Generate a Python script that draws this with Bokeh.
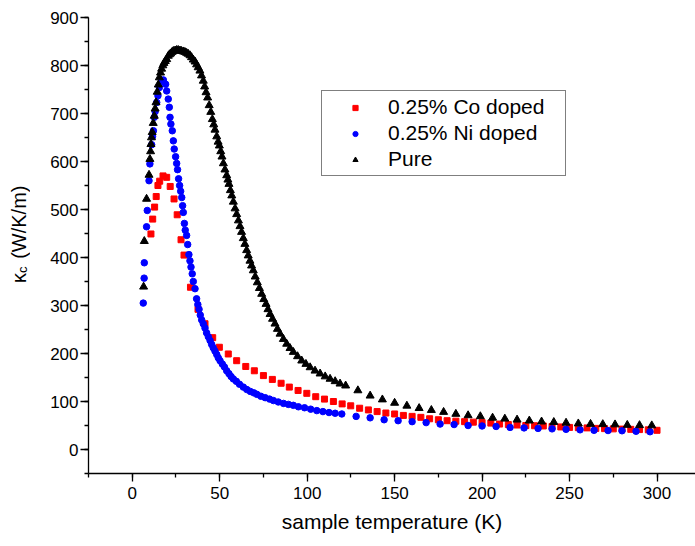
import math
from bokeh.plotting import figure
from bokeh.layouts import row
from bokeh.models import (Range1d, SingleIntervalTicker, Legend, LegendItem)
from bokeh.core.properties import value
from bokeh.embed import file_html
from bokeh.resources import INLINE

# ---------------- data ----------------
ni_T = [6.3, 6.8, 6.9, 8.2, 8.6, 9.6, 10.1, 11.1, 11.6, 12.1, 12.6, 13.1, 14.0, 14.7,
        15.5, 16.8, 17.8, 19.1, 19.7, 20.6, 21.2, 21.6, 22.1, 22.9, 23.5, 24.0, 24.8,
        25.4, 25.9, 26.5, 27.1, 27.7, 28.3, 28.8, 29.2, 29.8, 30.3, 31.1, 31.7, 32.4,
        33.0, 33.6, 34.3, 34.9, 35.9, 36.8, 37.5, 38.2, 38.9, 39.7, 40.6, 41.6, 42.5,
        43.5, 44.5, 45.4, 46.3, 47.3, 48.3, 49.2, 50.2, 51.5, 52.7, 54.0, 55.3, 56.5,
        57.8, 59.5, 61.3, 63.5, 65.5, 67.5, 69.5, 71.2, 73.5, 76.0, 78.5, 80.7, 83.5,
        86.5, 89.3, 92.1, 95.0, 98.5, 102.0, 105.5, 109.0, 112.5, 116.0, 119.8,
        128, 136, 144, 152, 160, 168, 176, 184, 192, 200, 208, 216, 224, 232, 240,
        248, 256, 264, 272, 280, 288, 296]
ni_K = [305, 357, 389, 464, 498, 560, 595, 635, 652, 664, 692, 704, 723, 737,
        754, 767, 770, 761, 747, 730, 713, 692, 678, 664, 643, 626, 610,
        596, 583, 564, 550, 538, 525, 508, 494, 471, 457, 446, 427, 406,
        393, 380, 366, 350, 335, 314, 302, 292, 280, 270, 262, 253, 243,
        235, 227, 219, 212, 205, 198, 191, 185, 178, 172, 164, 158, 152,
        147, 142, 136, 130, 125, 121, 118, 115, 111, 108, 105, 102, 99,
        96, 94, 92, 89, 87, 84, 81, 79, 77, 75.5, 74,
        69, 66, 62, 60, 58, 56, 53, 52, 50, 49, 48, 46, 45, 44, 43,
        42, 41, 40, 39.5, 39, 38, 37]

co_T = [10.7, 11.7, 12.8, 13.7, 14.7, 15.7, 17.6, 19.7, 21.7, 23.9, 25.7, 27.9, 29.6,
        33.3, 37.6, 41.6, 46.0, 49.8, 54.9, 59.7, 64.9, 69.8, 75.0, 80.1, 85.1, 89.8,
        94.8, 99.8, 104.9, 109.9, 115, 120, 124.9, 130, 135, 140, 145, 150, 155, 160,
        165, 170, 175, 180, 185, 190, 195, 200, 205, 210, 215, 220, 225, 230, 235,
        240, 245, 250, 255, 260, 265, 270, 275, 280, 285, 290, 295, 300]
co_K = [449, 480, 505, 527, 550, 559, 570, 567, 548, 522, 489, 437, 405,
        338, 292, 262, 233, 213, 199, 185, 173, 164, 154, 146, 138, 130,
        123, 117, 110, 105, 100, 95, 91, 86, 82.5, 79, 76, 74, 71, 69,
        67, 64, 62, 60, 59, 58, 57, 56, 55, 53, 52, 51, 50, 49.5, 49,
        48, 47, 46, 45.5, 45, 44, 43.5, 43, 42.5, 42, 41.5, 41, 40]

pure_T = [6.5, 6.9, 8.2, 9.6, 10.1, 10.5, 10.7, 11.0, 11.4, 12.0, 12.6, 13.1, 13.6,
          14.3, 14.9, 15.5, 16.2, 16.8, 17.5, 18.1, 18.9, 19.7, 20.6, 21.3, 22.0,
          22.8, 23.5, 24.5, 25.4, 26.3, 27.3, 28.2, 29.2, 30.1, 31.1, 32.0, 33.0,
          33.9, 34.9, 35.9, 36.8, 37.7, 38.7, 39.6, 40.6, 41.4, 42.2, 43.1, 44.0,
          44.9, 45.8, 46.6, 47.3, 48.3, 49.1, 49.8, 50.6, 51.3, 52.1, 53.0, 54.0,
          54.7, 55.3, 56.1, 56.9, 57.8, 58.8, 59.7, 60.7, 61.6, 62.5, 63.5, 64.4,
          65.4, 66.3, 67.3, 68.2, 69.2, 70.3, 71.5, 72.7, 74.0, 75.2, 76.5, 77.6,
          78.8, 80.2, 81.6, 83.0, 84.5, 86.4, 88.3, 90.2, 92.1, 94.5, 96.9, 99.3,
          101.7, 104.5, 107.4, 110.3, 113.1, 116.0, 118.8, 122.0,
          129, 136, 143, 150, 157, 164, 171, 178, 185, 192, 199, 206, 213, 220,
          227, 234, 241, 248, 255, 262, 269, 276, 283, 290, 297]
pure_K = [339, 434, 522, 572, 605, 621, 636, 650, 661, 680, 695, 710, 723,
          745, 760, 775, 785, 793, 800, 805, 809, 813, 820, 823, 825,
          828, 830, 831, 832, 832, 831, 830, 829, 828, 826, 824, 821,
          817, 812, 808, 802, 796, 789, 779, 768, 756, 744, 733, 717,
          703, 688, 677, 666, 652, 641, 633, 621, 610, 596, 583, 571,
          562, 553, 540, 529, 516, 502, 490, 477, 465, 453, 440, 428,
          415, 404, 393, 383, 373, 360, 348, 336, 324, 313, 303, 292,
          282, 272, 262, 251, 241, 230, 220, 211, 203, 194, 185, 178,
          171, 164, 158, 152, 147, 142, 137, 133,
          123, 112, 104, 97, 91, 86, 82, 78, 74, 71, 69, 66, 64, 62,
          60, 58, 57, 55.5, 54, 53, 52.5, 52, 51, 50.5, 50]

series_names = ["0.25% Co doped", "0.25% Ni doped", "Pure"]
x_label = "sample temperature (K)"
y_label_main = "\u03ba"
y_label_sub = "c"
y_label_unit = "(W/K/m)"

FONT = "Liberation Sans"
W, H = 695, 546
LABEL_W = 30           # narrow strip that carries the rotated y-axis title

# ---------------- y-axis title strip ----------------
t = figure(width=LABEL_W, height=H, output_backend="svg", toolbar_location=None,
           x_range=Range1d(0, LABEL_W), y_range=Range1d(H, 0),
           x_axis_location=None, y_axis_location=None,
           min_border=0)
t.outline_line_color = None
t.grid.visible = False
t.background_fill_color = "white"
t.border_fill_color = "white"
ang = math.pi / 2
t.text(x=[18], y=[318], text=[y_label_main], angle=ang,
       text_font=value(FONT), text_font_size="20px", text_color="black",
       text_align="left", text_baseline="alphabetic")
t.text(x=[22], y=[306], text=[y_label_sub], angle=ang,
       text_font=value(FONT), text_font_size="13px", text_color="black",
       text_align="left", text_baseline="alphabetic")
t.text(x=[18], y=[289], text=[y_label_unit], angle=ang,
       text_font=value(FONT), text_font_size="20px", text_color="black",
       text_align="left", text_baseline="alphabetic")

# ---------------- main chart ----------------
p = figure(width=W - LABEL_W, height=H, output_backend="svg", toolbar_location=None,
           x_range=Range1d(-25, 322), y_range=Range1d(-50, 900),
           min_border_left=88 - LABEL_W, min_border_right=0, min_border_top=17,
           min_border_bottom=73)
p.outline_line_color = None
p.grid.visible = False
p.background_fill_color = "white"
p.border_fill_color = "white"

r_co = p.scatter(co_T, co_K, marker="square", size=6, color="#ff0000")
r_ni = p.scatter(ni_T, ni_K, marker="circle", size=6.5, color="#0000ff")
r_pu = p.scatter(pure_T, pure_K, marker="triangle", size=8, color="black")

xa = p.xaxis[0]
ya = p.yaxis[0]
xa.ticker = SingleIntervalTicker(interval=50, num_minor_ticks=2)
ya.ticker = SingleIntervalTicker(interval=100, num_minor_ticks=2)
for ax in (xa, ya):
    ax.axis_line_width = 1.3
    ax.axis_line_color = "black"
    ax.major_tick_in = 0
    ax.major_tick_out = 8
    ax.minor_tick_in = 0
    ax.minor_tick_out = 4
    ax.major_tick_line_width = 1.3
    ax.minor_tick_line_width = 1.3
    ax.major_tick_line_color = "black"
    ax.minor_tick_line_color = "black"
    ax.major_label_text_font = FONT
    ax.major_label_text_font_size = "17px"
    ax.major_label_text_color = "black"
xa.major_label_standoff = 5
ya.major_label_standoff = 2
xa.axis_label = x_label
xa.axis_label_text_font = FONT
xa.axis_label_text_font_size = "21px"
xa.axis_label_text_font_style = "normal"
xa.axis_label_text_color = "black"
xa.axis_label_standoff = 8

legend = Legend(items=[LegendItem(label=series_names[0], renderers=[r_co]),
                       LegendItem(label=series_names[1], renderers=[r_ni]),
                       LegendItem(label=series_names[2], renderers=[r_pu])],
                location=(233, 297))
legend.padding = 3
legend.spacing = 0
legend.margin = 0
legend.glyph_width = 60
legend.glyph_height = 13
legend.label_height = 26
legend.label_width = 174
legend.label_standoff = 3
legend.label_text_font = FONT
legend.label_text_font_size = "21px"
legend.label_text_color = "black"
legend.label_text_baseline = "middle"
legend.border_line_color = "black"
legend.border_line_width = 1
legend.background_fill_color = "white"
legend.background_fill_alpha = 1
p.add_layout(legend)

layout = row(t, p, spacing=0)
open("out.html", "w").write(file_html(layout, INLINE))
